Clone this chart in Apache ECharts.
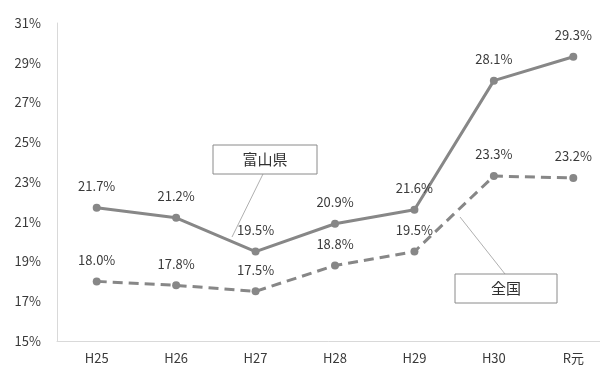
<!DOCTYPE html>
<html>
<head>
<meta charset="utf-8">
<script src="https://cdn.jsdelivr.net/npm/echarts@6/dist/echarts.min.js"></script>
<style>
  html, body { margin: 0; padding: 0; background: #fff; }
  #chart { width: 600px; height: 370px; }
</style>
</head>
<body>
<div id="chart"></div>
<script>
// Fiscal years (Heisei 25 .. Reiwa 1)
const categories = ['H25', 'H26', 'H27', 'H28', 'H29', 'H30', 'R元'];
// Rates in percent
const toyama = [21.7, 21.2, 19.5, 20.9, 21.6, 28.1, 29.3];
const national = [18.0, 17.8, 17.5, 18.8, 19.5, 23.3, 23.2];
// Y axis range / step in percent
const yMin = 15, yMax = 31, yStep = 2;

const FONT = '"Noto Sans CJK JP", "Noto Sans", sans-serif';
const LINE = '#878787';
const TEXT = '#3a3a3a';

const chart = echarts.init(document.getElementById('chart'));

const labelCfg = {
  show: true,
  position: 'top',
  distance: 11,
  color: TEXT,
  fontFamily: FONT,
  fontSize: 13,
  formatter: p => p.value.toFixed(1) + '%'
};

chart.setOption({
  animation: false,
  backgroundColor: '#fff',
  // plot runs past the right edge, so the last band is only half visible
  grid: { left: 57, top: 23, width: 556, height: 318, outerBoundsMode: 'none', containLabel: false },
  xAxis: {
    type: 'category',
    data: categories,
    boundaryGap: true,
    axisLine: { lineStyle: { color: '#d9d9d9', width: 1 } },
    axisTick: { show: false },
    axisLabel: { color: TEXT, fontFamily: FONT, fontSize: 13, margin: 11 }
  },
  yAxis: {
    type: 'value',
    min: yMin,
    max: yMax,
    interval: yStep,
    axisLine: { show: true, lineStyle: { color: '#d9d9d9', width: 1 } },
    axisTick: { show: false },
    splitLine: { show: false },
    axisLabel: {
      color: TEXT, fontFamily: FONT, fontSize: 13, margin: 16,
      formatter: v => v + '%'
    }
  },
  series: [
    {
      name: '富山県',
      type: 'line',
      data: toyama,
      symbol: 'circle',
      symbolSize: 8,
      lineStyle: { color: LINE, width: 3 },
      itemStyle: { color: LINE },
      label: labelCfg
    },
    {
      name: '全国',
      type: 'line',
      data: national,
      symbol: 'circle',
      symbolSize: 8,
      lineStyle: { color: LINE, width: 3, type: [10, 6] },
      itemStyle: { color: LINE },
      label: labelCfg
    }
  ],
  graphic: [
    // callout for the prefecture line
    { type: 'line', shape: { x1: 263, y1: 174, x2: 232, y2: 237 },
      style: { stroke: '#b0b0b0', lineWidth: 1 }, z: 10 },
    { type: 'rect', shape: { x: 213, y: 145, width: 104, height: 29 },
      style: { fill: '#fff', stroke: '#8a8a8a', lineWidth: 1 }, z: 10 },
    { type: 'text', x: 265, y: 159.5, z: 11,
      style: { text: '富山県', fill: '#303030', font: '15px ' + FONT, align: 'center', verticalAlign: 'middle' } },
    // callout for the national line
    { type: 'line', shape: { x1: 505, y1: 274, x2: 460, y2: 217 },
      style: { stroke: '#b0b0b0', lineWidth: 1 }, z: 10 },
    { type: 'rect', shape: { x: 455, y: 274, width: 102, height: 29 },
      style: { fill: '#fff', stroke: '#8a8a8a', lineWidth: 1 }, z: 10 },
    { type: 'text', x: 506, y: 288.5, z: 11,
      style: { text: '全国', fill: '#303030', font: '15px ' + FONT, align: 'center', verticalAlign: 'middle' } }
  ]
});
</script>
</body>
</html>
